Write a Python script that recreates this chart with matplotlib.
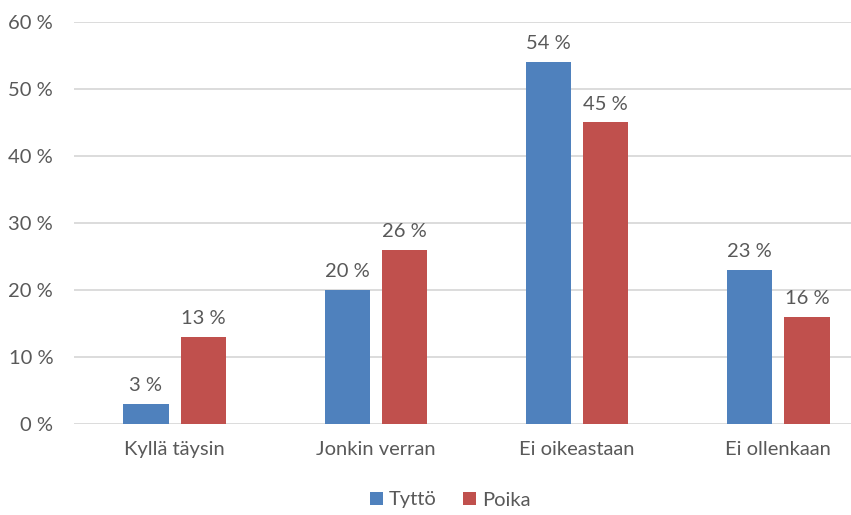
import matplotlib.pyplot as plt
import numpy as np

plt.rcParams['font.family'] = ['Lato', 'DejaVu Sans']

categories = ['Kyllä täysin', 'Jonkin verran', 'Ei oikeastaan', 'Ei ollenkaan']
tytto = [3, 20, 54, 23]
poika = [13, 26, 45, 16]
yticks = [0, 10, 20, 30, 40, 50, 60]

blue = '#4F81BD'
red = '#C0504D'
grey = '#595959'
fs = 14.5

W, H = 851, 515
fig = plt.figure(figsize=(W / 100, H / 100), dpi=100)
# plot area is cut off on the right in the original
left, right, top, bottom = 74, 879, 21.7, 424.3
ax = fig.add_axes([left / W, 1 - bottom / H, (right - left) / W, (bottom - top) / H])

x = np.arange(len(categories))
w = 0.225
off = w / 2 + 0.03
b1 = ax.bar(x - off, tytto, w, color=blue, label='Tyttö', zorder=3)
b2 = ax.bar(x + off, poika, w, color=red, label='Poika', zorder=3)

for bars, vals in ((b1, tytto), (b2, poika)):
    for r, v in zip(bars, vals):
        ax.annotate(f'{v} %', (r.get_x() + r.get_width() / 2, v),
                    xytext=(0, 7), textcoords='offset points',
                    ha='center', va='bottom', fontsize=fs, color=grey)

ax.set_xlim(-0.5, len(categories) - 0.5)
ax.set_ylim(0, 60)
ax.set_yticks(yticks)
ax.set_yticklabels([f'{t} %' for t in yticks])
ax.set_xticks(x)
ax.set_xticklabels(categories)
ax.tick_params(axis='both', length=0, labelsize=fs, labelcolor=grey)
ax.tick_params(axis='y', pad=15)
ax.tick_params(axis='x', pad=12)
ax.grid(axis='y', color='#D9D9D9', linewidth=1.3, zorder=0)
for s in ax.spines.values():
    s.set_visible(False)

fig.legend(handles=[b1, b2], loc='center', bbox_to_anchor=(450 / W, 1 - 500 / H),
           ncol=2, frameon=False, fontsize=fs, labelcolor=grey,
           handlelength=0.65, handleheight=0.65, handletextpad=0.3, columnspacing=1.3)

fig.savefig('out.png', dpi=100)
